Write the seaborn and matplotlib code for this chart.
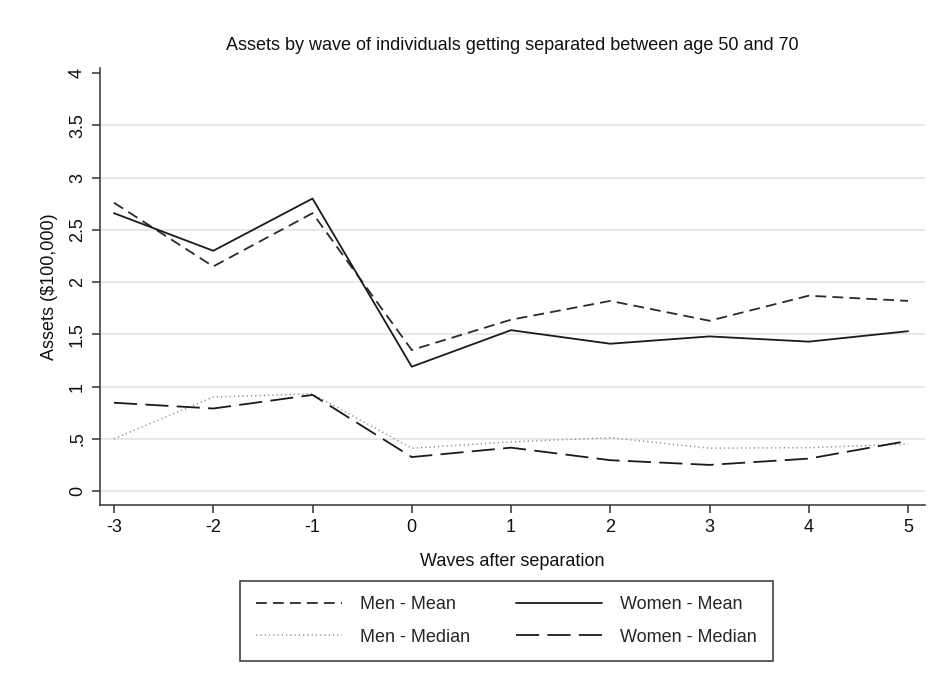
import numpy as np
import pandas as pd
import matplotlib
matplotlib.use("Agg")
import matplotlib.pyplot as plt
import seaborn as sns

# Waves relative to the separation wave
waves = [-3, -2, -1, 0, 1, 2, 3, 4, 5]

# Assets in units of $100,000
men_mean = [2.76, 2.15, 2.66, 1.35, 1.64, 1.82, 1.63, 1.87, 1.82]
women_mean = [2.66, 2.30, 2.80, 1.19, 1.54, 1.41, 1.48, 1.43, 1.53]
men_median = [0.50, 0.90, 0.93, 0.41, 0.47, 0.51, 0.41, 0.415, 0.45]
women_median = [0.845, 0.79, 0.92, 0.325, 0.415, 0.295, 0.25, 0.31, 0.48]

y_ticks = [0, 0.5, 1, 1.5, 2, 2.5, 3, 3.5, 4]
y_tick_labels = ["0", ".5", "1", "1.5", "2", "2.5", "3", "3.5", "4"]

series = {
    "Men - Mean": men_mean,
    "Women - Mean": women_mean,
    "Men - Median": men_median,
    "Women - Median": women_median,
}
df = pd.concat(
    [pd.DataFrame({"wave": waves, "assets": v, "series": k}) for k, v in series.items()],
    ignore_index=True,
)

sns.set_theme(style="white")
plt.rcParams["font.family"] = ["Liberation Sans", "DejaVu Sans"]

FS = 13

# dash patterns are in units of line width (matplotlib scales them)
styles = {
    "Men - Mean": dict(color="#2a2a2a", lw=1.3, ls=(0, (6.0, 3.4))),
    "Women - Mean": dict(color="#1a1a1a", lw=1.3, ls="-"),
    "Men - Median": dict(color="#8f8f8f", lw=1.1, ls=(0, (0.8, 2.0))),
    "Women - Median": dict(color="#1a1a1a", lw=1.3, ls=(0, (12.8, 4.6))),
}

fig = plt.figure(figsize=(9.36, 6.88), dpi=100)
ax = fig.add_axes([100 / 936, 1 - 505 / 688, 825 / 936, (505 - 68) / 688])

for name in series:
    st = styles[name]
    sns.lineplot(
        data=df[df["series"] == name], x="wave", y="assets", ax=ax,
        color=st["color"], linewidth=st["lw"], linestyle=st["ls"],
        label=name, legend=False, estimator=None,
    )

ax.set_xlim(-3.141, 5.171)
ax.set_ylim(-0.134, 4.05)
ax.set_xticks(waves)
ax.set_xticklabels([str(w) for w in waves])
ax.set_yticks(y_ticks)
ax.set_yticklabels(y_tick_labels, rotation=90, va="center")

# horizontal grid at every tick except the top one
for yv in y_ticks[:-1]:
    ax.axhline(yv, color="#e8e8e8", lw=1.4, zorder=0)

for side in ["top", "right"]:
    ax.spines[side].set_visible(False)
for side in ["left", "bottom"]:
    ax.spines[side].set_color("#333333")
    ax.spines[side].set_linewidth(1.1)

ax.tick_params(axis="both", direction="out", length=6, width=1.1, color="#333333",
               labelsize=FS, labelcolor="#111111", pad=4, left=True, bottom=True)

ax.set_xlabel("Waves after separation", fontsize=FS, color="#111111", labelpad=12)
ax.set_ylabel("Assets ($100,000)", fontsize=FS, color="#111111", labelpad=8)
ax.set_title("Assets by wave of individuals getting separated between age 50 and 70",
             fontsize=FS, color="#111111", pad=13)

handles, labels = ax.get_legend_handles_labels()
order = ["Men - Mean", "Men - Median", "Women - Mean", "Women - Median"]
hmap = dict(zip(labels, handles))
leg = fig.legend(
    [hmap[o] for o in order], order,
    loc="center", bbox_to_anchor=(506.5 / 936, 1 - 621 / 688), bbox_transform=fig.transFigure,
    ncol=2, fontsize=FS, frameon=True, fancybox=False, framealpha=1,
    edgecolor="#333333", handlelength=4.8, handletextpad=1.0, columnspacing=2.5,
    labelspacing=0.85, borderpad=0.85,
)
leg.get_frame().set_linewidth(1.1)

fig.savefig("out.png", dpi=100, facecolor="white")
